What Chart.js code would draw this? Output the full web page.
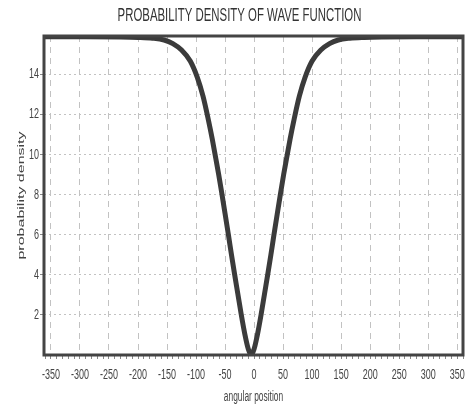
<!DOCTYPE html>
<html><head><meta charset="utf-8">
<script src="https://cdn.jsdelivr.net/npm/chart.js@4/dist/chart.umd.min.js"></script>
<style>html,body{margin:0;padding:0;background:#fff}</style>
</head><body>
<canvas id="c" width="470" height="408"></canvas>
<script>
const chartTitle = 'PROBABILITY DENSITY OF WAVE FUNCTION';
const xAxisTitle = 'angular position';
const yAxisTitle = 'probability density';
const angles = [-362,-290,-230,-200,-175,-155,-140,-125,-110,-98,-88,-79,-72,-66,-61,-55,-50,-44,-39,-34,-28,-22,-16,-10,-5,
                0,6,12,18,24,29,34,40,45,51,56,62,69,78,88,100,115,130,145,165,190,220,280,360];
const density = [15.86,15.86,15.85,15.83,15.79,15.7,15.52,15.2,14.65,13.85,12.9,11.75,10.75,9.8,9.0,7.95,7.05,5.95,5.0,4.1,3.05,2.0,1.05,0.3,0,
                 0.3,1.05,2.0,3.05,4.1,5.0,5.95,7.05,7.95,9.0,9.8,10.75,11.75,12.9,13.85,14.65,15.2,15.52,15.7,15.79,15.83,15.85,15.86,15.86];
const xTickLabels = [-350,-300,-250,-200,-150,-100,-50,0,50,100,150,200,250,300,350];
const xMinorTicks = [-360,-340,-330,-320,-310,-290,-280,-270,-260,-240,-230,-220,-210,-190,-180,-170,-160,-140,-130,-120,-110,-90,-80,-70,-60,-40,-30,-20,-10,10,20,30,40,60,70,80,90,110,120,130,140,160,170,180,190,210,220,230,240,260,270,280,290,310,320,330,340,360];
const yTickLabels = [2,4,6,8,10,12,14];

const SQ = 0.6;
const squeezeText = {
  id: 'squeezeText',
  beforeDraw(chart) {
    const ctx = chart.ctx;
    const wrap = (obj, name, dx) => {
      if (!obj || obj['_sq_' + name]) return;
      const orig = obj[name];
      obj[name] = function (...args) {
        const t = CanvasRenderingContext2D.prototype.translate;
        ctx.translate = function (x, y) { t.call(this, x + dx, y); this.scale(SQ, 1); };
        try { return orig.apply(this, args); } finally { delete ctx.translate; }
      };
      obj['_sq_' + name] = true;
    };
    wrap(chart.titleBlock, 'draw', 6);
    Object.values(chart.scales).forEach(s => { wrap(s, 'drawLabels', 0); wrap(s, 'drawTitle', 0); });
  }
};
const frame = {
  id: 'frame',
  afterDatasetsDraw(chart) {
    const {ctx, chartArea: a} = chart;
    ctx.save();
    ctx.strokeStyle = '#444';
    ctx.lineWidth = 3;
    ctx.strokeRect(a.left, a.top, a.right - a.left, a.bottom - a.top);
    ctx.restore();
  }
};

const sans = "'Liberation Sans', Arial, sans-serif";
const majorSet = new Set(xTickLabels);

new Chart(document.getElementById('c'), {
  type: 'line',
  data: {
    datasets: [{
      data: angles.map((a, i) => ({x: a, y: density[i]})),
      borderColor: '#3b3b3b',
      borderWidth: 5,
      pointRadius: 0,
      cubicInterpolationMode: 'monotone',
      fill: false
    }]
  },
  plugins: [squeezeText, frame],
  options: {
    responsive: false,
    animation: false,
    devicePixelRatio: 1,
    layout: {padding: {left: 0, right: 3, top: 0, bottom: 0}},
    plugins: {
      legend: {display: false},
      tooltip: {enabled: false},
      title: {
        display: true,
        text: chartTitle,
        color: '#333',
        font: {family: sans, size: 19, weight: 'normal', lineHeight: 1.2},
        padding: {top: 4.6, bottom: 8.6}
      }
    },
    scales: {
      x: {
        type: 'linear',
        min: -362,
        max: 360,
        afterBuildTicks(scale) {
          scale.ticks = xTickLabels.concat(xMinorTicks).sort((a, b) => a - b).map(v => ({value: v}));
        },
        afterFit(scale) { scale.height = 53; },
        ticks: {
          autoSkip: false,
          maxRotation: 0,
          padding: 7,
          color: '#444',
          font: {family: sans, size: 15},
          callback: v => majorSet.has(v) ? String(v) : ''
        },
        grid: {
          color: c => (c.tick && majorSet.has(c.tick.value)) ? '#c2c2c2' : 'rgba(0,0,0,0)',
          tickColor: '#888',
          tickLength: 4,
          lineWidth: 1
        },
        border: {display: false, dash: [6, 5]},
        title: {
          display: true,
          text: xAxisTitle,
          color: '#444',
          font: {family: sans, size: 14},
          padding: {top: 0, bottom: 2.6}
        }
      },
      y: {
        min: 0,
        max: 15.9,
        afterBuildTicks(scale) {
          scale.ticks = yTickLabels.map(v => ({value: v}));
        },
        afterFit(scale) { scale.width = 44; },
        ticks: {
          padding: 1,
          color: '#444',
          font: {family: sans, size: 15}
        },
        grid: {
          color: '#c2c2c2',
          tickColor: '#888',
          tickLength: 4,
          lineWidth: 1
        },
        border: {display: false, dash: [2, 3]},
        title: {
          display: true,
          text: yAxisTitle,
          color: '#444',
          font: {family: sans, size: 16},
          padding: {top: 11.4, bottom: 0}
        }
      }
    }
  }
});
</script>
</body></html>
